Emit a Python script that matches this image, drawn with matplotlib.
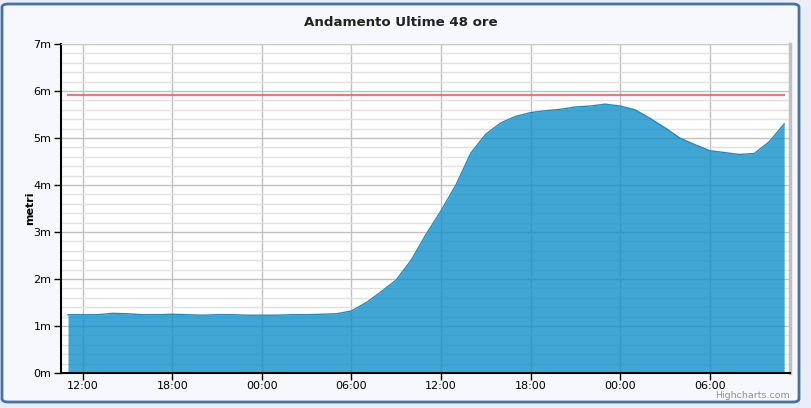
import matplotlib
matplotlib.use("Agg")
import matplotlib.pyplot as plt
from matplotlib.patches import FancyBboxPatch
from matplotlib.ticker import MultipleLocator

# hours from 11:00 of day 1, one reading per hour
hours = list(range(49))
livello = [1.24, 1.24, 1.24, 1.27, 1.26, 1.24, 1.24, 1.25, 1.24, 1.23,
           1.24, 1.24, 1.23, 1.23, 1.23, 1.24, 1.24, 1.25, 1.26, 1.32,
           1.50, 1.73, 1.98, 2.40, 2.95, 3.45, 4.00, 4.68, 5.08, 5.32,
           5.46, 5.54, 5.58, 5.61, 5.66, 5.68, 5.72, 5.68, 5.60, 5.42,
           5.22, 5.00, 4.86, 4.73, 4.69, 4.65, 4.67, 4.92, 5.30]
soglia = 5.92

tick_hours = [1, 7, 13, 19, 25, 31, 37, 43]
tick_labels = ["12:00", "18:00", "00:00", "06:00", "12:00", "18:00", "00:00", "06:00"]
y_ticks = list(range(8))
y_labels = ["%dm" % v for v in y_ticks]

W, H = 811, 408
fig = plt.figure(figsize=(W / 100, H / 100), dpi=100)
fig.patch.set_facecolor("#e9eefa")

# rounded chart frame
frame = FancyBboxPatch((2 / W, 6 / H), 797 / W, 398 / H,
                       boxstyle="round,pad=0,rounding_size=0.008",
                       transform=fig.transFigure, facecolor="#f7f8fd",
                       edgecolor="#4572a7", linewidth=2, zorder=-5)
fig.patches.append(frame)

ax = fig.add_axes([61 / W, 1 - 373 / H, (790 - 61) / W, (373 - 44) / H])
ax.set_zorder(1)
ax.set_facecolor("white")

ax.fill_between(hours, livello, 0, color="#1290c9", alpha=0.8, linewidth=0, zorder=2)
ax.plot(hours, livello, color="#1a8cc4", linewidth=1, zorder=3)
ax.plot([hours[0], hours[-1]], [soglia, soglia], color="#e86a6a", linewidth=1.6, alpha=0.9, zorder=4)

ax.set_xlim(-0.47, 48.39)
ax.set_ylim(0, 7)
ax.set_xticks(tick_hours)
ax.set_xticklabels(tick_labels)
ax.set_yticks(y_ticks)
ax.set_yticklabels(y_labels)
ax.yaxis.set_minor_locator(MultipleLocator(0.2))

ax.grid(True, which="major", color="#c0c0c0", linewidth=1, zorder=1)
ax.grid(True, which="minor", axis="y", color="#e0e0e0", linewidth=1, zorder=1)
ax.set_axisbelow(True)

ax.tick_params(axis="both", which="major", direction="out", length=5, width=1,
               labelsize=8, colors="black", pad=2)
ax.tick_params(axis="x", which="major", pad=1)
ax.tick_params(axis="y", which="minor", length=0)
for s in ["left", "bottom"]:
    ax.spines[s].set_color("black")
    ax.spines[s].set_linewidth(1.5)
ax.spines["top"].set_color("#c8c8c8")
ax.spines["right"].set_color("#c0c0c0")
ax.spines["right"].set_linewidth(2.5)

ax.set_ylabel("metri", fontsize=8, fontweight="bold")
ax.yaxis.set_label_coords(-0.036, 0.5)
fig.text(401 / W, 1 - 22 / H, "Andamento Ultime 48 ore", ha="center", va="center",
         fontsize=9.6, fontweight="bold", color="#222222")
fig.text(790 / W, 1 - 396 / H, "Highcharts.com", ha="right", va="center",
         fontsize=6.8, color="#909090")

fig.savefig("out.png", dpi=100, facecolor=fig.get_facecolor())
